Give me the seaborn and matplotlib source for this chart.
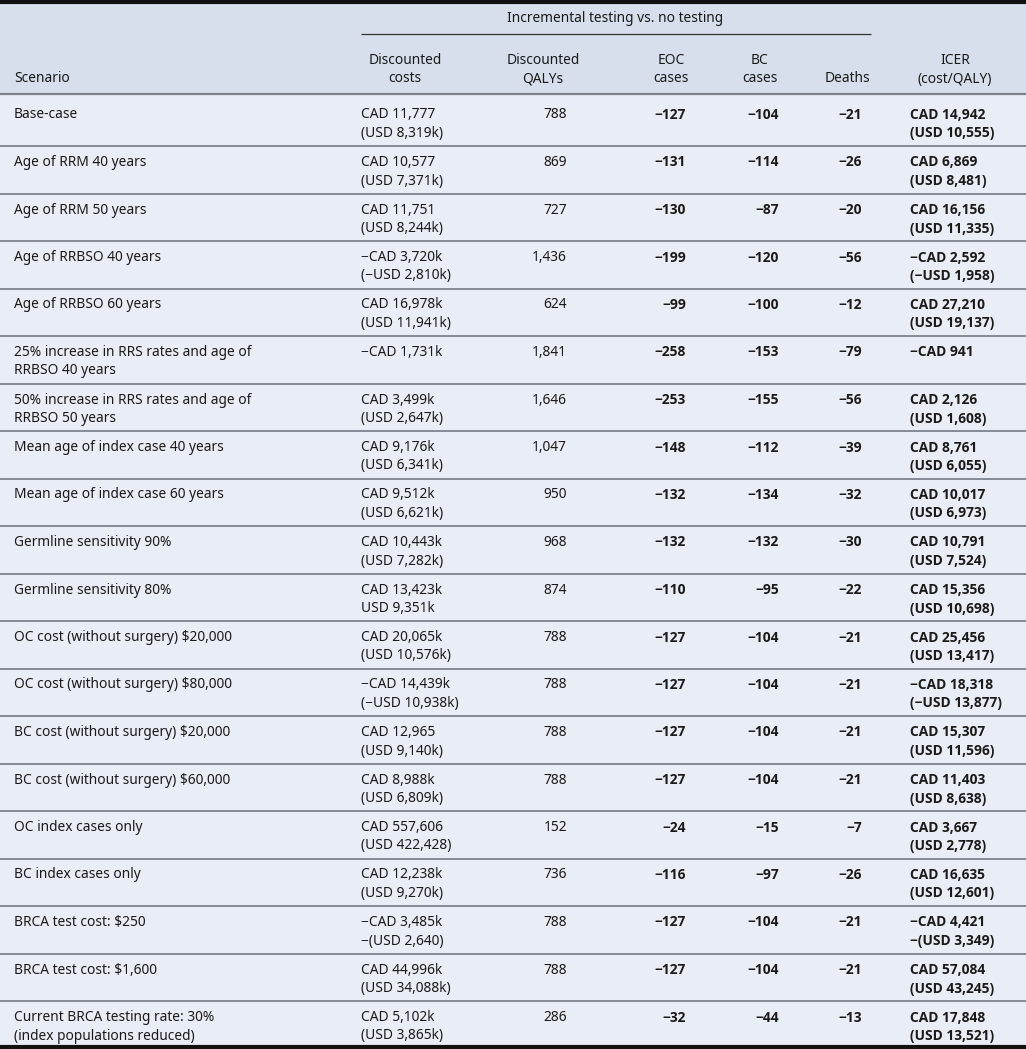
import matplotlib
matplotlib.use("Agg")
import matplotlib.pyplot as plt
from matplotlib import font_manager as fm
import seaborn as sns

# ---- table data ----
scenarios = [
    "Base-case",
    "Age of RRM 40 years",
    "Age of RRM 50 years",
    "Age of RRBSO 40 years",
    "Age of RRBSO 60 years",
    "25% increase in RRS rates and age of\nRRBSO 40 years",
    "50% increase in RRS rates and age of\nRRBSO 50 years",
    "Mean age of index case 40 years",
    "Mean age of index case 60 years",
    "Germline sensitivity 90%",
    "Germline sensitivity 80%",
    "OC cost (without surgery) $20,000",
    "OC cost (without surgery) $80,000",
    "BC cost (without surgery) $20,000",
    "BC cost (without surgery) $60,000",
    "OC index cases only",
    "BC index cases only",
    "BRCA test cost: $250",
    "BRCA test cost: $1,600",
    "Current BRCA testing rate: 30%\n(index populations reduced)",
]
costs_cad = ["CAD 11,777", "CAD 10,577", "CAD 11,751", "−CAD 3,720k", "CAD 16,978k",
             "−CAD 1,731k", "CAD 3,499k", "CAD 9,176k", "CAD 9,512k", "CAD 10,443k",
             "CAD 13,423k", "CAD 20,065k", "−CAD 14,439k", "CAD 12,965", "CAD 8,988k",
             "CAD 557,606", "CAD 12,238k", "−CAD 3,485k", "CAD 44,996k", "CAD 5,102k"]
costs_usd = ["(USD 8,319k)", "(USD 7,371k)", "(USD 8,244k)", "(−USD 2,810k)", "(USD 11,941k)",
             "", "(USD 2,647k)", "(USD 6,341k)", "(USD 6,621k)", "(USD 7,282k)",
             "USD 9,351k", "(USD 10,576k)", "(−USD 10,938k)", "(USD 9,140k)", "(USD 6,809k)",
             "(USD 422,428)", "(USD 9,270k)", "−(USD 2,640)", "(USD 34,088k)", "(USD 3,865k)"]
qalys = [788, 869, 727, 1436, 624, 1841, 1646, 1047, 950, 968,
         874, 788, 788, 788, 788, 152, 736, 788, 788, 286]
eoc_cases = [-127, -131, -130, -199, -99, -258, -253, -148, -132, -132,
             -110, -127, -127, -127, -127, -24, -116, -127, -127, -32]
bc_cases = [-104, -114, -87, -120, -100, -153, -155, -112, -134, -132,
            -95, -104, -104, -104, -104, -15, -97, -104, -104, -44]
deaths = [-21, -26, -20, -56, -12, -79, -56, -39, -32, -30,
          -22, -21, -21, -21, -21, -7, -26, -21, -21, -13]
icer_cad = ["CAD 14,942", "CAD 6,869", "CAD 16,156", "−CAD 2,592", "CAD 27,210",
            "−CAD 941", "CAD 2,126", "CAD 8,761", "CAD 10,017", "CAD 10,791",
            "CAD 15,356", "CAD 25,456", "−CAD 18,318", "CAD 15,307", "CAD 11,403",
            "CAD 3,667", "CAD 16,635", "−CAD 4,421", "CAD 57,084", "CAD 17,848"]
icer_usd = ["(USD 10,555)", "(USD 8,481)", "(USD 11,335)", "(−USD 1,958)", "(USD 19,137)",
            "", "(USD 1,608)", "(USD 6,055)", "(USD 6,973)", "(USD 7,524)",
            "(USD 10,698)", "(USD 13,417)", "(−USD 13,877)", "(USD 11,596)", "(USD 8,638)",
            "(USD 2,778)", "(USD 12,601)", "−(USD 3,349)", "(USD 43,245)", "(USD 13,521)"]

group_title = "Incremental testing vs. no testing"
col_headers = ["Scenario", "Discounted\ncosts", "Discounted\nQALYs", "EOC\ncases",
               "BC\ncases", "Deaths", "ICER\n(cost/QALY)"]


def fmt(v):
    return f"{v:,}".replace("-", "−")


def has_bold(fam):
    try:
        path = fm.findfont(fm.FontProperties(family=fam, weight="bold"),
                           fallback_to_default=False)
    except ValueError:
        return False
    return "bold" in path.lower()


sns.set_theme(style="white")
plt.rcParams["font.family"] = ["Noto Sans", "DejaVu Sans"]
plt.rcParams["text.parse_math"] = False

bold_family = next((f for f in ["Noto Sans", "Open Sans", "Lato", "Roboto"] if has_bold(f)),
                   "DejaVu Sans")

W, H = 1026, 1049
fig = plt.figure(figsize=(W / 100, H / 100), dpi=100)
ax = fig.add_axes([0, 0, 1, 1])
ax.set_xlim(0, W)
ax.set_ylim(H, 0)
ax.axis("off")

head_bg = "#d6dfeb"
body_bg = "#e9edf6"
txt = "#1a1a1a"
fs = 9.9
bold = dict(fontsize=fs, color=txt, fontweight="bold", family=[bold_family, "DejaVu Sans"])
reg = dict(fontsize=fs, color=txt)

header_bottom = 94
row_h = 47.5
first_y = 115
line_gap = 18.5

ax.axhspan(0, header_bottom, color=head_bg, zorder=0)
ax.axhspan(header_bottom, H, color=body_bg, zorder=0)

# header
ax.text(615, 18, group_title, ha="center", va="center", **reg)
ax.hlines(34, 361, 871, color="#333333", lw=0.9)

x_cost, x_qaly, x_eoc, x_bc, x_death, x_icer = 361, 567, 686, 779, 862, 910
head_centers = [None, 405, 543, 671, 760, 847, 955]
ax.text(14, 78, col_headers[0], ha="left", va="center", **reg)
for hx, lab in zip(head_centers[1:], col_headers[1:]):
    parts = lab.split("\n")
    if len(parts) == 1:
        ax.text(hx, 79, parts[0], ha="center", va="center", **reg)
    else:
        ax.text(hx, 60, parts[0], ha="center", va="center", **reg)
        ax.text(hx, 79, parts[1], ha="center", va="center", **reg)

ax.hlines(header_bottom, 0, W, color="#7d838d", lw=1.6)
ax.hlines(1.5, 0, W, color="#111111", lw=3)
ax.hlines(H - 2, 0, W, color="#111111", lw=3)

# body rows
for i, name in enumerate(scenarios):
    y = first_y + i * row_h
    if i > 0:
        ax.hlines(y - 16.5, 0, W, color="#7d838d", lw=1.3)
    for k, part in enumerate(name.split("\n")):
        ax.text(14, y + k * line_gap, part, ha="left", va="center", **reg)
    ax.text(x_cost, y, costs_cad[i], ha="left", va="center", **reg)
    if costs_usd[i]:
        ax.text(x_cost, y + line_gap, costs_usd[i], ha="left", va="center", **reg)
    ax.text(x_qaly, y, fmt(qalys[i]), ha="right", va="center", **reg)
    ax.text(x_eoc, y, fmt(eoc_cases[i]), ha="right", va="center", **bold)
    ax.text(x_bc, y, fmt(bc_cases[i]), ha="right", va="center", **bold)
    ax.text(x_death, y, fmt(deaths[i]), ha="right", va="center", **bold)
    ax.text(x_icer, y, icer_cad[i], ha="left", va="center", **bold)
    if icer_usd[i]:
        ax.text(x_icer, y + line_gap, icer_usd[i], ha="left", va="center", **bold)

fig.savefig("out.png", dpi=100, facecolor=body_bg)
